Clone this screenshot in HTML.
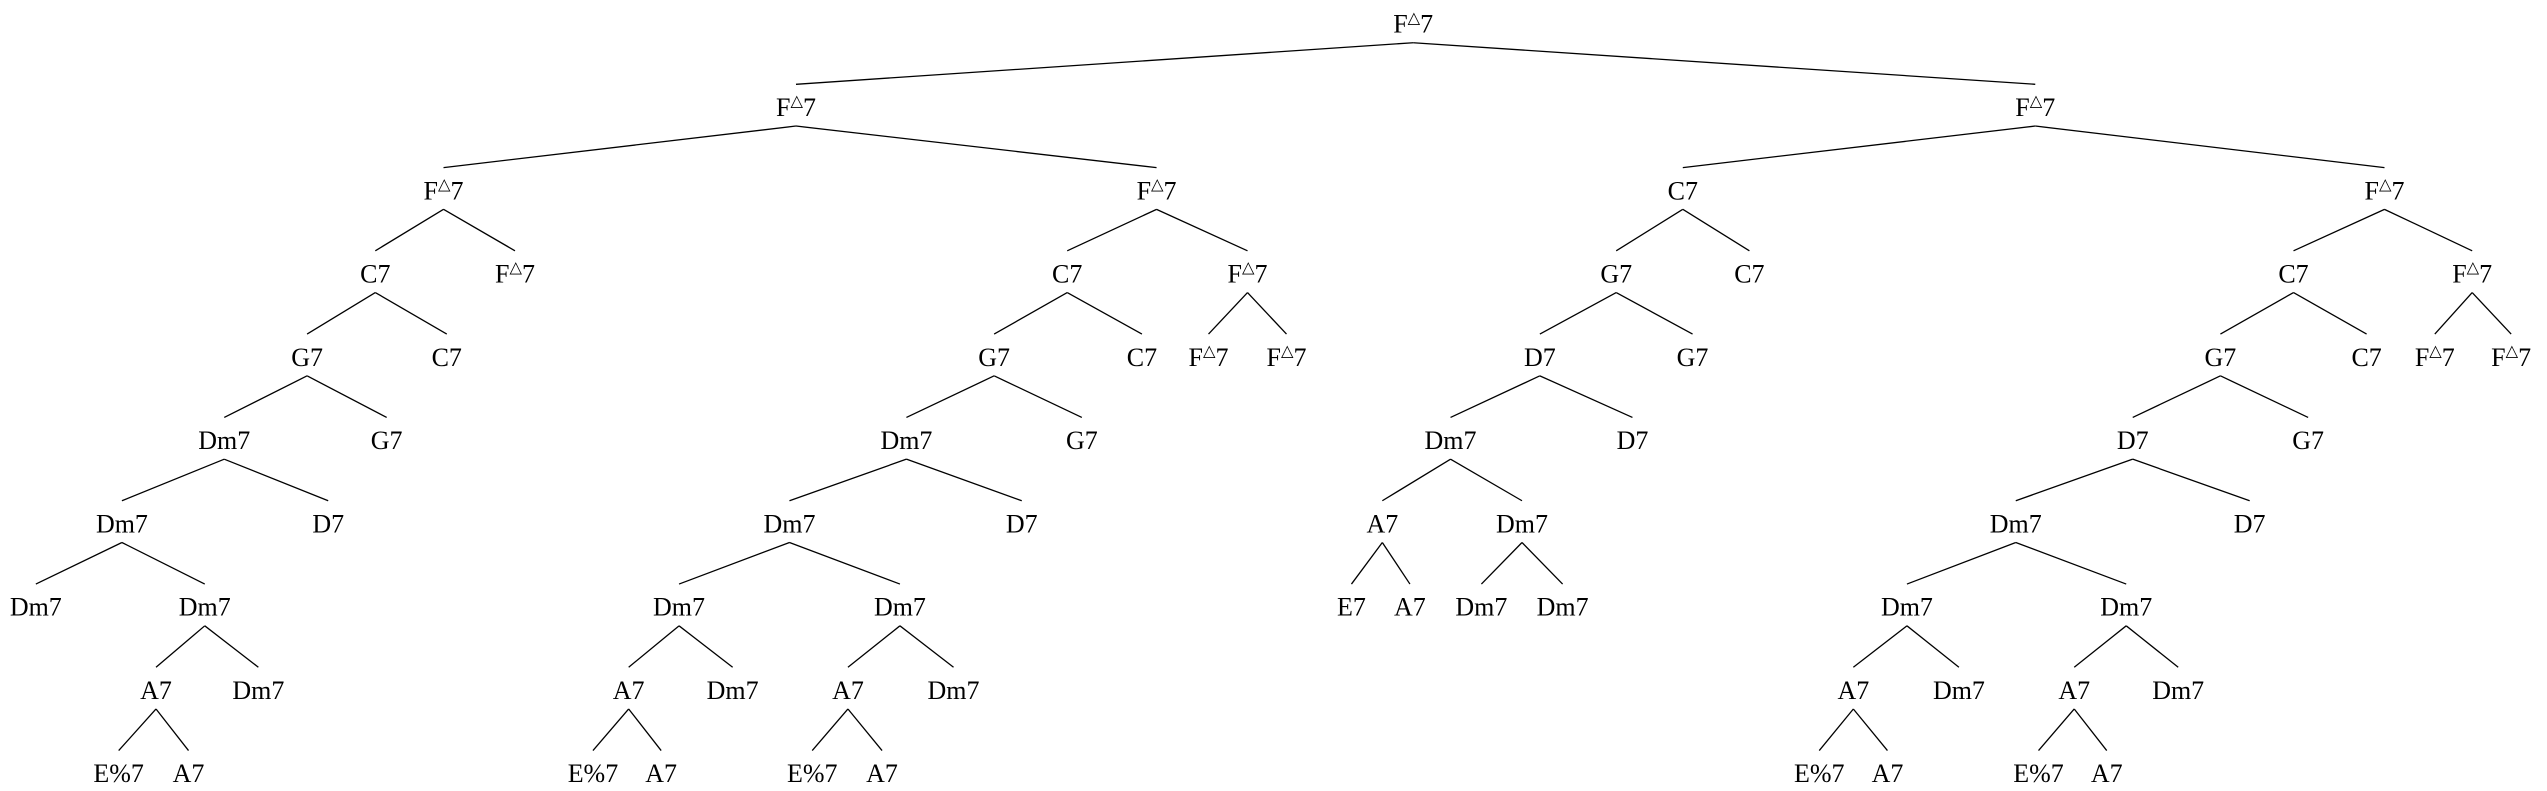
<!DOCTYPE html>
<html><head><meta charset="utf-8"><style>
html,body{margin:0;padding:0;background:#fff;}
svg{display:block;}
text{font-family:"Liberation Serif","DejaVu Serif",serif;font-size:16px;text-anchor:middle;fill:#000;}
line{stroke:#000;stroke-width:0.8;}
</style></head><body>
<svg width="2547" height="791" viewBox="0 0 1568 487" xmlns="http://www.w3.org/2000/svg">
<g>
<!-- L0->L1 -->
<line x1="870" y1="26.3" x2="490" y2="51.9"/><line x1="870" y1="26.3" x2="1253" y2="51.9"/>
<!-- L1->L2 -->
<line x1="490" y1="77.6" x2="273" y2="103.2"/><line x1="490" y1="77.6" x2="712" y2="103.2"/>
<line x1="1253" y1="77.6" x2="1036" y2="103.2"/><line x1="1253" y1="77.6" x2="1468" y2="103.2"/>
<!-- L2->L3 -->
<line x1="273" y1="128.9" x2="231" y2="154.4"/><line x1="273" y1="128.9" x2="317" y2="154.4"/>
<line x1="712" y1="128.9" x2="657" y2="154.4"/><line x1="712" y1="128.9" x2="768" y2="154.4"/>
<line x1="1036" y1="128.9" x2="995" y2="154.4"/><line x1="1036" y1="128.9" x2="1077" y2="154.4"/>
<line x1="1468" y1="128.9" x2="1412" y2="154.4"/><line x1="1468" y1="128.9" x2="1522" y2="154.4"/>
<!-- L3->L4 -->
<line x1="231" y1="180.1" x2="189" y2="205.7"/><line x1="231" y1="180.1" x2="275" y2="205.7"/>
<line x1="657" y1="180.1" x2="612" y2="205.7"/><line x1="657" y1="180.1" x2="703" y2="205.7"/>
<line x1="768" y1="180.1" x2="744" y2="205.7"/><line x1="768" y1="180.1" x2="792" y2="205.7"/>
<line x1="995" y1="180.1" x2="948" y2="205.7"/><line x1="995" y1="180.1" x2="1042" y2="205.7"/>
<line x1="1412" y1="180.1" x2="1367" y2="205.7"/><line x1="1412" y1="180.1" x2="1457" y2="205.7"/>
<line x1="1522" y1="180.1" x2="1499" y2="205.7"/><line x1="1522" y1="180.1" x2="1546" y2="205.7"/>
<!-- L4->L5 -->
<line x1="189" y1="231.4" x2="138" y2="257"/><line x1="189" y1="231.4" x2="238" y2="257"/>
<line x1="612" y1="231.4" x2="558" y2="257"/><line x1="612" y1="231.4" x2="666" y2="257"/>
<line x1="948" y1="231.4" x2="893" y2="257"/><line x1="948" y1="231.4" x2="1005" y2="257"/>
<line x1="1367" y1="231.4" x2="1313" y2="257"/><line x1="1367" y1="231.4" x2="1421" y2="257"/>
<!-- L5->L6 -->
<line x1="138" y1="282.7" x2="75" y2="308.3"/><line x1="138" y1="282.7" x2="202" y2="308.3"/>
<line x1="558" y1="282.7" x2="486" y2="308.3"/><line x1="558" y1="282.7" x2="629" y2="308.3"/>
<line x1="893" y1="282.7" x2="851" y2="308.3"/><line x1="893" y1="282.7" x2="937" y2="308.3"/>
<line x1="1313" y1="282.7" x2="1241" y2="308.3"/><line x1="1313" y1="282.7" x2="1385" y2="308.3"/>
<!-- L6->L7 -->
<line x1="75" y1="334" x2="22" y2="359.6"/><line x1="75" y1="334" x2="126" y2="359.6"/>
<line x1="486" y1="334" x2="418" y2="359.6"/><line x1="486" y1="334" x2="554" y2="359.6"/>
<line x1="851" y1="334" x2="832" y2="359.6"/><line x1="851" y1="334" x2="868" y2="359.6"/>
<line x1="937" y1="334" x2="912" y2="359.6"/><line x1="937" y1="334" x2="962" y2="359.6"/>
<line x1="1241" y1="334" x2="1174" y2="359.6"/><line x1="1241" y1="334" x2="1309" y2="359.6"/>
<!-- L7->L8 -->
<line x1="126" y1="385.3" x2="96" y2="410.8"/><line x1="126" y1="385.3" x2="159" y2="410.8"/>
<line x1="418" y1="385.3" x2="387" y2="410.8"/><line x1="418" y1="385.3" x2="451" y2="410.8"/>
<line x1="554" y1="385.3" x2="522" y2="410.8"/><line x1="554" y1="385.3" x2="587" y2="410.8"/>
<line x1="1174" y1="385.3" x2="1141" y2="410.8"/><line x1="1174" y1="385.3" x2="1206" y2="410.8"/>
<line x1="1309" y1="385.3" x2="1277" y2="410.8"/><line x1="1309" y1="385.3" x2="1341" y2="410.8"/>
<!-- L8->L9 -->
<line x1="96" y1="436.5" x2="73" y2="462.1"/><line x1="96" y1="436.5" x2="116" y2="462.1"/>
<line x1="387" y1="436.5" x2="365" y2="462.1"/><line x1="387" y1="436.5" x2="407" y2="462.1"/>
<line x1="522" y1="436.5" x2="500" y2="462.1"/><line x1="522" y1="436.5" x2="543" y2="462.1"/>
<line x1="1141" y1="436.5" x2="1120" y2="462.1"/><line x1="1141" y1="436.5" x2="1162" y2="462.1"/>
<line x1="1277" y1="436.5" x2="1255" y2="462.1"/><line x1="1277" y1="436.5" x2="1297" y2="462.1"/>
</g>
<g>
<!-- F triangle 7 nodes -->
<text x="870" y="20.1">F<tspan font-size="10" dy="-6">△</tspan><tspan dy="6">7</tspan></text>
<text x="490" y="71.4">F<tspan font-size="10" dy="-6">△</tspan><tspan dy="6">7</tspan></text>
<text x="1253" y="71.4">F<tspan font-size="10" dy="-6">△</tspan><tspan dy="6">7</tspan></text>
<text x="273" y="122.7">F<tspan font-size="10" dy="-6">△</tspan><tspan dy="6">7</tspan></text>
<text x="712" y="122.7">F<tspan font-size="10" dy="-6">△</tspan><tspan dy="6">7</tspan></text>
<text x="1468" y="122.7">F<tspan font-size="10" dy="-6">△</tspan><tspan dy="6">7</tspan></text>
<text x="317" y="173.9">F<tspan font-size="10" dy="-6">△</tspan><tspan dy="6">7</tspan></text>
<text x="768" y="173.9">F<tspan font-size="10" dy="-6">△</tspan><tspan dy="6">7</tspan></text>
<text x="1522" y="173.9">F<tspan font-size="10" dy="-6">△</tspan><tspan dy="6">7</tspan></text>
<text x="744" y="225.2">F<tspan font-size="10" dy="-6">△</tspan><tspan dy="6">7</tspan></text>
<text x="792" y="225.2">F<tspan font-size="10" dy="-6">△</tspan><tspan dy="6">7</tspan></text>
<text x="1499" y="225.2">F<tspan font-size="10" dy="-6">△</tspan><tspan dy="6">7</tspan></text>
<text x="1546" y="225.2">F<tspan font-size="10" dy="-6">△</tspan><tspan dy="6">7</tspan></text>
<!-- L2 -->
<text x="1036" y="122.7">C7</text>
<!-- L3 -->
<text x="231" y="173.9">C7</text><text x="657" y="173.9">C7</text><text x="995" y="173.9">G7</text><text x="1077" y="173.9">C7</text><text x="1412" y="173.9">C7</text>
<!-- L4 -->
<text x="189" y="225.2">G7</text><text x="275" y="225.2">C7</text><text x="612" y="225.2">G7</text><text x="703" y="225.2">C7</text><text x="948" y="225.2">D7</text><text x="1042" y="225.2">G7</text><text x="1367" y="225.2">G7</text><text x="1457" y="225.2">C7</text>
<!-- L5 -->
<text x="138" y="276.5">Dm7</text><text x="238" y="276.5">G7</text><text x="558" y="276.5">Dm7</text><text x="666" y="276.5">G7</text><text x="893" y="276.5">Dm7</text><text x="1005" y="276.5">D7</text><text x="1313" y="276.5">D7</text><text x="1421" y="276.5">G7</text>
<!-- L6 -->
<text x="75" y="327.8">Dm7</text><text x="202" y="327.8">D7</text><text x="486" y="327.8">Dm7</text><text x="629" y="327.8">D7</text><text x="851" y="327.8">A7</text><text x="937" y="327.8">Dm7</text><text x="1241" y="327.8">Dm7</text><text x="1385" y="327.8">D7</text>
<!-- L7 -->
<text x="22" y="379.1">Dm7</text><text x="126" y="379.1">Dm7</text><text x="418" y="379.1">Dm7</text><text x="554" y="379.1">Dm7</text><text x="832" y="379.1">E7</text><text x="868" y="379.1">A7</text><text x="912" y="379.1">Dm7</text><text x="962" y="379.1">Dm7</text><text x="1174" y="379.1">Dm7</text><text x="1309" y="379.1">Dm7</text>
<!-- L8 -->
<text x="96" y="430.3">A7</text><text x="159" y="430.3">Dm7</text><text x="387" y="430.3">A7</text><text x="451" y="430.3">Dm7</text><text x="522" y="430.3">A7</text><text x="587" y="430.3">Dm7</text><text x="1141" y="430.3">A7</text><text x="1206" y="430.3">Dm7</text><text x="1277" y="430.3">A7</text><text x="1341" y="430.3">Dm7</text>
<!-- L9 -->
<text x="73" y="481.6">E%7</text><text x="116" y="481.6">A7</text><text x="365" y="481.6">E%7</text><text x="407" y="481.6">A7</text><text x="500" y="481.6">E%7</text><text x="543" y="481.6">A7</text><text x="1120" y="481.6">E%7</text><text x="1162" y="481.6">A7</text><text x="1255" y="481.6">E%7</text><text x="1297" y="481.6">A7</text>
</g>
</svg>
</body></html>
